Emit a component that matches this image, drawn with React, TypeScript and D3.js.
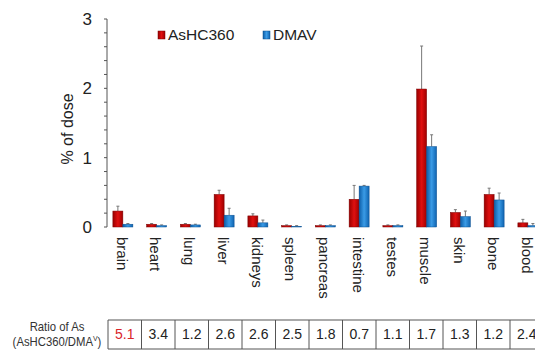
import React from 'react';
import * as d3 from 'd3';

const margin = { top: 19, left: 107, axisBottom: 227 };
const width = 535;
const height = 355;

const organs = ['brain', 'heart', 'lung', 'liver', 'kidneys', 'spleen', 'pancreas', 'intestine', 'testes', 'muscle', 'skin', 'bone', 'blood'];
const ashc360 = [0.23, 0.04, 0.04, 0.47, 0.16, 0.02, 0.02, 0.40, 0.02, 1.99, 0.21, 0.47, 0.06];
const ashc360Err = [0.07, 0.01, 0.01, 0.06, 0.03, 0.01, 0.01, 0.20, 0.01, 0.62, 0.04, 0.09, 0.05];
const dmav = [0.04, 0.02, 0.03, 0.17, 0.06, 0.01, 0.02, 0.59, 0.02, 1.16, 0.15, 0.39, 0.02];
const dmavErr = [0.01, 0.01, 0.01, 0.10, 0.04, 0.01, 0.01, 0.01, 0.01, 0.17, 0.08, 0.10, 0.03];
const ratios = ['5.1', '3.4', '1.2', '2.6', '2.6', '2.5', '1.8', '0.7', '1.1', '1.7', '1.3', '1.2', '2.4'];
const yTicks = [0, 1, 2, 3];

const series = [
  { name: 'AsHC360', values: ashc360, err: ashc360Err, grad: 'gRed', stroke: '#7a0000' },
  { name: 'DMAV', values: dmav, err: dmavErr, grad: 'gBlue', stroke: '#0b4f8f' },
];

export default function App() {
  const x = d3.scaleBand().domain(organs).range([106, 106 + 33.75 * 13]).paddingInner(0).paddingOuter(0);
  const xs = d3.scaleBand().domain(series.map(s => s.name)).range([0, 20]);
  const y = d3.scaleLinear().domain([0, 3]).range([margin.axisBottom, margin.top]);
  const minor = d3.range(0, 3.0001, 0.2);
  const cellX = d3.scaleBand().domain(organs).range([108, 108 + 33.5 * 13]);

  //bars and error bars
  const bars = series.map((s) => (
    <g key={s.name}>
      {organs.map((o, i) => {
        const bx = (x(o) as number) + x.bandwidth() / 2 - 10 + (xs(s.name) as number);
        const top = y(s.values[i]);
        const errTop = y(s.values[i] + s.err[i]);
        const cx = bx + xs.bandwidth() / 2;
        return (
          <g key={o}>
            <line x1={cx} x2={cx} y1={top} y2={errTop} stroke="#777" strokeWidth={1} />
            <line x1={cx - 1.5} x2={cx + 1.5} y1={errTop} y2={errTop} stroke="#777" strokeWidth={1} />
            <rect x={bx} y={top} width={xs.bandwidth()} height={margin.axisBottom - top}
              fill={`url(#${s.grad})`} stroke={s.stroke} strokeWidth={0.5} />
          </g>
        );
      })}
    </g>
  ));

  return (
    <svg width={width} height={height} style={{ position: 'absolute', left: 0, top: 0 }}
      fontFamily="Liberation Sans, Arial, sans-serif">
      <defs>
        <linearGradient id="gRed" x1="0" x2="1" y1="0" y2="0">
          <stop offset="0" stopColor="#9a0000" />
          <stop offset="0.5" stopColor="#e01010" />
          <stop offset="1" stopColor="#a00000" />
        </linearGradient>
        <linearGradient id="gBlue" x1="0" x2="1" y1="0" y2="0">
          <stop offset="0" stopColor="#0d5ea8" />
          <stop offset="0.5" stopColor="#3a9be6" />
          <stop offset="1" stopColor="#0f63b0" />
        </linearGradient>
      </defs>
      <rect width={width} height={height} fill="#fff" />

      {/* y axis */}
      <line x1={margin.left} x2={margin.left} y1={margin.top} y2={margin.axisBottom} stroke="#555" />
      {minor.map(v => (
        <line key={v} x1={margin.left - 3} x2={margin.left} y1={y(v)} y2={y(v)} stroke="#555" />
      ))}
      {yTicks.map(v => (
        <text key={v} x={92} y={y(v)} dy="0.36em" textAnchor="end" fontSize={17} fill="#222">{v}</text>
      ))}
      <text transform="translate(73,129) rotate(-90)" textAnchor="middle" fontSize={16} fill="#222">% of dose</text>

      {bars}

      {/* legend */}
      <rect x={158} y={31} width={7} height={8} fill="url(#gRed)" stroke="#7a0000" strokeWidth={0.5} />
      <text x={168} y={40} fontSize={15.5} fill="#222">AsHC360</text>
      <rect x={263} y={31} width={7} height={8} fill="url(#gBlue)" stroke="#0b4f8f" strokeWidth={0.5} />
      <text x={273} y={40} fontSize={15.5} fill="#222">DMAV</text>

      {/* category labels */}
      {organs.map(o => (
        <text key={o} transform={`translate(${(x(o) as number) + x.bandwidth() / 2 - 1},237) rotate(90)`}
          dy="0.35em" fontSize={15} fill="#222">{o}</text>
      ))}

      {/* ratio table */}
      <g transform="translate(57,0) scale(0.87,1)">
        <text x={0} y={331} textAnchor="middle" fontSize={13} fill="#333">Ratio of As</text>
        <text x={0} y={346} textAnchor="middle" fontSize={13} fill="#333">
          (AsHC360/DMA<tspan fontSize={8} dy={-5}>V</tspan><tspan dy={5}>)</tspan>
        </text>
      </g>
      <line x1={108} x2={width} y1={320} y2={320} stroke="#555" />
      <line x1={108} x2={width} y1={349} y2={349} stroke="#555" />
      {organs.map((o, i) => (
        <g key={o}>
          <line x1={cellX(o) as number} x2={cellX(o) as number} y1={320} y2={349} stroke="#555" />
          <text x={(cellX(o) as number) + cellX.bandwidth() / 2} y={339} textAnchor="middle" fontSize={14}
            fill={i === 0 ? '#d9262b' : '#222'}>{ratios[i]}</text>
        </g>
      ))}
    </svg>
  );
}
